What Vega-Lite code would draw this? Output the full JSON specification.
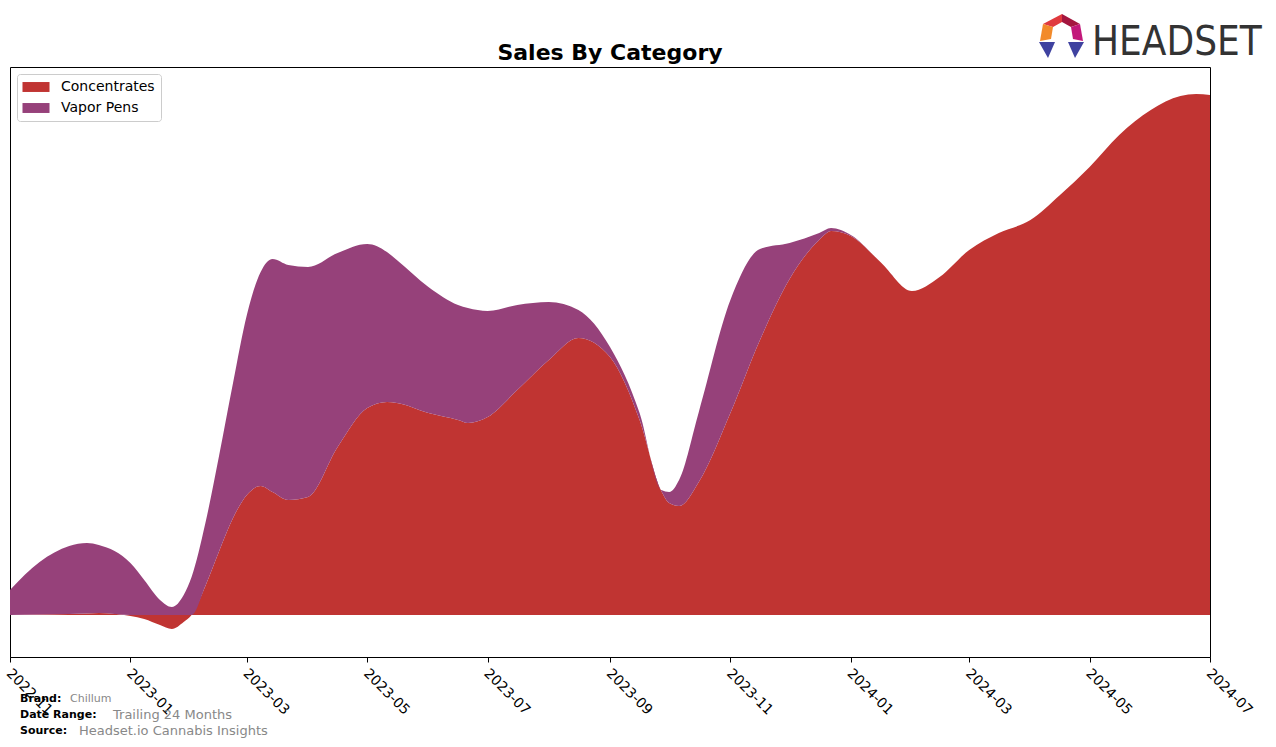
{
  "$schema": "https://vega.github.io/schema/vega-lite/v6.json",
  "width": 1200,
  "height": 590,
  "autosize": "none",
  "padding": {"left": 10, "top": 67, "right": 66, "bottom": 90},
  "background": "white",
  "config": {"font": "DejaVu Sans", "view": {"stroke": "black", "strokeWidth": 1}},
  "layer": [
    {
      "data": {"values": [
        {"date": "2022-11-01", "Concentrates": 0, "Vapor Pens": 25},
        {"date": "2022-11-16", "Concentrates": 0.5, "Vapor Pens": 52.5},
        {"date": "2022-12-01", "Concentrates": 1, "Vapor Pens": 68},
        {"date": "2022-12-10", "Concentrates": 1.5, "Vapor Pens": 70.5},
        {"date": "2022-12-16", "Concentrates": 2, "Vapor Pens": 68},
        {"date": "2023-01-01", "Concentrates": -1, "Vapor Pens": 52},
        {"date": "2023-01-08", "Concentrates": -4, "Vapor Pens": 35},
        {"date": "2023-01-16", "Concentrates": -10, "Vapor Pens": 15},
        {"date": "2023-01-22", "Concentrates": -14, "Vapor Pens": 8},
        {"date": "2023-01-28", "Concentrates": -7, "Vapor Pens": 20},
        {"date": "2023-02-01", "Concentrates": 0, "Vapor Pens": 38},
        {"date": "2023-02-08", "Concentrates": 29, "Vapor Pens": 63},
        {"date": "2023-02-15", "Concentrates": 64, "Vapor Pens": 96},
        {"date": "2023-02-22", "Concentrates": 97, "Vapor Pens": 135},
        {"date": "2023-03-01", "Concentrates": 120, "Vapor Pens": 180},
        {"date": "2023-03-08", "Concentrates": 129, "Vapor Pens": 214},
        {"date": "2023-03-14", "Concentrates": 123, "Vapor Pens": 233},
        {"date": "2023-03-22", "Concentrates": 115, "Vapor Pens": 235},
        {"date": "2023-04-01", "Concentrates": 118, "Vapor Pens": 230},
        {"date": "2023-04-16", "Concentrates": 168, "Vapor Pens": 194},
        {"date": "2023-05-01", "Concentrates": 207, "Vapor Pens": 164},
        {"date": "2023-05-11", "Concentrates": 213, "Vapor Pens": 150},
        {"date": "2023-05-16", "Concentrates": 212, "Vapor Pens": 143},
        {"date": "2023-06-01", "Concentrates": 202, "Vapor Pens": 126},
        {"date": "2023-06-16", "Concentrates": 195, "Vapor Pens": 115},
        {"date": "2023-06-21", "Concentrates": 192, "Vapor Pens": 115},
        {"date": "2023-07-01", "Concentrates": 198, "Vapor Pens": 106},
        {"date": "2023-07-16", "Concentrates": 225, "Vapor Pens": 85},
        {"date": "2023-08-01", "Concentrates": 255, "Vapor Pens": 58},
        {"date": "2023-08-16", "Concentrates": 277, "Vapor Pens": 28},
        {"date": "2023-09-01", "Concentrates": 258, "Vapor Pens": 10},
        {"date": "2023-09-16", "Concentrates": 195, "Vapor Pens": 7},
        {"date": "2023-09-27", "Concentrates": 124, "Vapor Pens": 1},
        {"date": "2023-10-01", "Concentrates": 112, "Vapor Pens": 11},
        {"date": "2023-10-06", "Concentrates": 109, "Vapor Pens": 26},
        {"date": "2023-10-16", "Concentrates": 133, "Vapor Pens": 70},
        {"date": "2023-11-01", "Concentrates": 202, "Vapor Pens": 113},
        {"date": "2023-11-16", "Concentrates": 275, "Vapor Pens": 91},
        {"date": "2023-12-01", "Concentrates": 336, "Vapor Pens": 36},
        {"date": "2023-12-16", "Concentrates": 375, "Vapor Pens": 7},
        {"date": "2023-12-22", "Concentrates": 384, "Vapor Pens": 3},
        {"date": "2024-01-01", "Concentrates": 379, "Vapor Pens": 1},
        {"date": "2024-01-16", "Concentrates": 353, "Vapor Pens": 0},
        {"date": "2024-02-01", "Concentrates": 324, "Vapor Pens": 0},
        {"date": "2024-02-15", "Concentrates": 338, "Vapor Pens": 0},
        {"date": "2024-03-01", "Concentrates": 365, "Vapor Pens": 0},
        {"date": "2024-03-16", "Concentrates": 382, "Vapor Pens": 0},
        {"date": "2024-04-01", "Concentrates": 395, "Vapor Pens": 0},
        {"date": "2024-04-16", "Concentrates": 420, "Vapor Pens": 0},
        {"date": "2024-05-01", "Concentrates": 448, "Vapor Pens": 0},
        {"date": "2024-05-16", "Concentrates": 480, "Vapor Pens": 0},
        {"date": "2024-06-01", "Concentrates": 505, "Vapor Pens": 0},
        {"date": "2024-06-16", "Concentrates": 519, "Vapor Pens": 0},
        {"date": "2024-06-24", "Concentrates": 521, "Vapor Pens": 0},
        {"date": "2024-07-01", "Concentrates": 520, "Vapor Pens": 0}
      ]},
      "transform": [{"fold": ["Concentrates", "Vapor Pens"], "as": ["category", "value"]}],
      "mark": {"type": "area", "interpolate": "monotone", "opacity": 1},
      "encoding": {
        "x": {
          "field": "date", "type": "temporal",
          "scale": {"type": "utc", "domain": [{"year": 2022, "month": 11, "date": 1, "utc": true}, {"year": 2024, "month": 7, "date": 1, "utc": true}]},
          "axis": {
            "title": null, "grid": false, "format": "%Y-%m",
            "values": [
              {"year": 2022, "month": 11, "date": 1, "utc": true},
              {"year": 2023, "month": 1, "date": 1, "utc": true},
              {"year": 2023, "month": 3, "date": 1, "utc": true},
              {"year": 2023, "month": 5, "date": 1, "utc": true},
              {"year": 2023, "month": 7, "date": 1, "utc": true},
              {"year": 2023, "month": 9, "date": 1, "utc": true},
              {"year": 2023, "month": 11, "date": 1, "utc": true},
              {"year": 2024, "month": 1, "date": 1, "utc": true},
              {"year": 2024, "month": 3, "date": 1, "utc": true},
              {"year": 2024, "month": 5, "date": 1, "utc": true},
              {"year": 2024, "month": 7, "date": 1, "utc": true}
            ],
            "labelAngle": 45, "labelAlign": "left", "labelBaseline": "top",
            "labelFontSize": 14, "labelFont": "DejaVu Sans", "labelColor": "black",
            "labelPadding": 4, "labelOffset": 3, "labelFlush": false, "labelOverlap": false,
            "tickColor": "black", "tickSize": 5, "domainColor": "black"
          }
        },
        "y": {"field": "value", "type": "quantitative", "stack": "zero", "scale": {"domain": [-42, 548], "nice": false, "zero": false}, "axis": null},
        "order": {"field": "category", "type": "nominal", "sort": "ascending"},
        "color": {
          "field": "category", "type": "nominal",
          "scale": {"domain": ["Concentrates", "Vapor Pens"], "range": ["#C03432", "#96417A"]},
          "legend": {
            "title": null, "orient": "none", "legendX": 7, "legendY": 7,
            "symbolType": "M-1.93,-0.71L1.93,-0.71L1.93,0.71L-1.93,0.71Z", "symbolSize": 196,
            "symbolStrokeWidth": 0, "symbolOpacity": 1, "symbolOffset": 6,
            "labelFontSize": 14, "labelFont": "DejaVu Sans", "labelColor": "black", "labelOffset": 18,
            "padding": 6, "rowPadding": 7, "strokeColor": "#cccccc", "fillColor": "white", "cornerRadius": 3
          }
        }
      }
    },
    {"data": {"values": [{}]}, "mark": {"type": "text", "text": "Sales By Category", "fontWeight": "bold", "fontSize": 22, "align": "center", "baseline": "alphabetic", "font": "DejaVu Sans", "color": "black"}, "encoding": {"x": {"value": 600}, "y": {"value": -7}}},
    {"data": {"values": [{}]}, "mark": {"type": "text", "text": "Brand:", "fontWeight": "bold", "fontSize": 11, "align": "left", "baseline": "middle", "font": "DejaVu Sans", "color": "black"}, "encoding": {"x": {"value": 10}, "y": {"value": 632}}},
    {"data": {"values": [{}]}, "mark": {"type": "text", "text": "Chillum", "fontSize": 11, "align": "left", "baseline": "middle", "font": "DejaVu Sans", "color": "#888888"}, "encoding": {"x": {"value": 60}, "y": {"value": 632}}},
    {"data": {"values": [{}]}, "mark": {"type": "text", "text": "Date Range:", "fontWeight": "bold", "fontSize": 11, "align": "left", "baseline": "middle", "font": "DejaVu Sans", "color": "black"}, "encoding": {"x": {"value": 10}, "y": {"value": 648}}},
    {"data": {"values": [{}]}, "mark": {"type": "text", "text": "Trailing 24 Months", "fontSize": 13, "align": "left", "baseline": "middle", "font": "DejaVu Sans", "color": "#888888"}, "encoding": {"x": {"value": 103}, "y": {"value": 648}}},
    {"data": {"values": [{}]}, "mark": {"type": "text", "text": "Source:", "fontWeight": "bold", "fontSize": 11, "align": "left", "baseline": "middle", "font": "DejaVu Sans", "color": "black"}, "encoding": {"x": {"value": 10}, "y": {"value": 664}}},
    {"data": {"values": [{}]}, "mark": {"type": "text", "text": "Headset.io Cannabis Insights", "fontSize": 13, "align": "left", "baseline": "middle", "font": "DejaVu Sans", "color": "#888888"}, "encoding": {"x": {"value": 69}, "y": {"value": 664}}},
    {"data": {"values": [{}]}, "mark": {"type": "text", "text": "HEADSET", "fontSize": 40, "align": "left", "baseline": "alphabetic", "font": "DejaVu Sans Condensed", "color": "#333333"}, "encoding": {"x": {"value": 1082}, "y": {"value": -12}}},
    {"data": {"values": [{}]}, "mark": {"type": "point", "shape": "M-19,-12L0,-22L0,-14L-9,-9Z", "size": 4, "filled": true, "color": "#E03A3E", "opacity": 1, "strokeWidth": 0}, "encoding": {"x": {"value": 1052}, "y": {"value": -31}}},
    {"data": {"values": [{}]}, "mark": {"type": "point", "shape": "M0,-22L18,-12L9,-9L0,-14Z", "size": 4, "filled": true, "color": "#A4163F", "opacity": 1, "strokeWidth": 0}, "encoding": {"x": {"value": 1052}, "y": {"value": -31}}},
    {"data": {"values": [{}]}, "mark": {"type": "point", "shape": "M18,-12L21,5L11,3L9,-9Z", "size": 4, "filled": true, "color": "#C2187A", "opacity": 1, "strokeWidth": 0}, "encoding": {"x": {"value": 1052}, "y": {"value": -31}}},
    {"data": {"values": [{}]}, "mark": {"type": "point", "shape": "M-19,-12L-9,-9L-11,3L-22,5Z", "size": 4, "filled": true, "color": "#F28A2A", "opacity": 1, "strokeWidth": 0}, "encoding": {"x": {"value": 1052}, "y": {"value": -31}}},
    {"data": {"values": [{}]}, "mark": {"type": "point", "shape": "M-23,6L-7,6L-14,22Z", "size": 4, "filled": true, "color": "#3F42A0", "opacity": 1, "strokeWidth": 0}, "encoding": {"x": {"value": 1052}, "y": {"value": -31}}},
    {"data": {"values": [{}]}, "mark": {"type": "point", "shape": "M6,6L22,6L13,22Z", "size": 4, "filled": true, "color": "#3F42A0", "opacity": 1, "strokeWidth": 0}, "encoding": {"x": {"value": 1052}, "y": {"value": -31}}}
  ]
}
